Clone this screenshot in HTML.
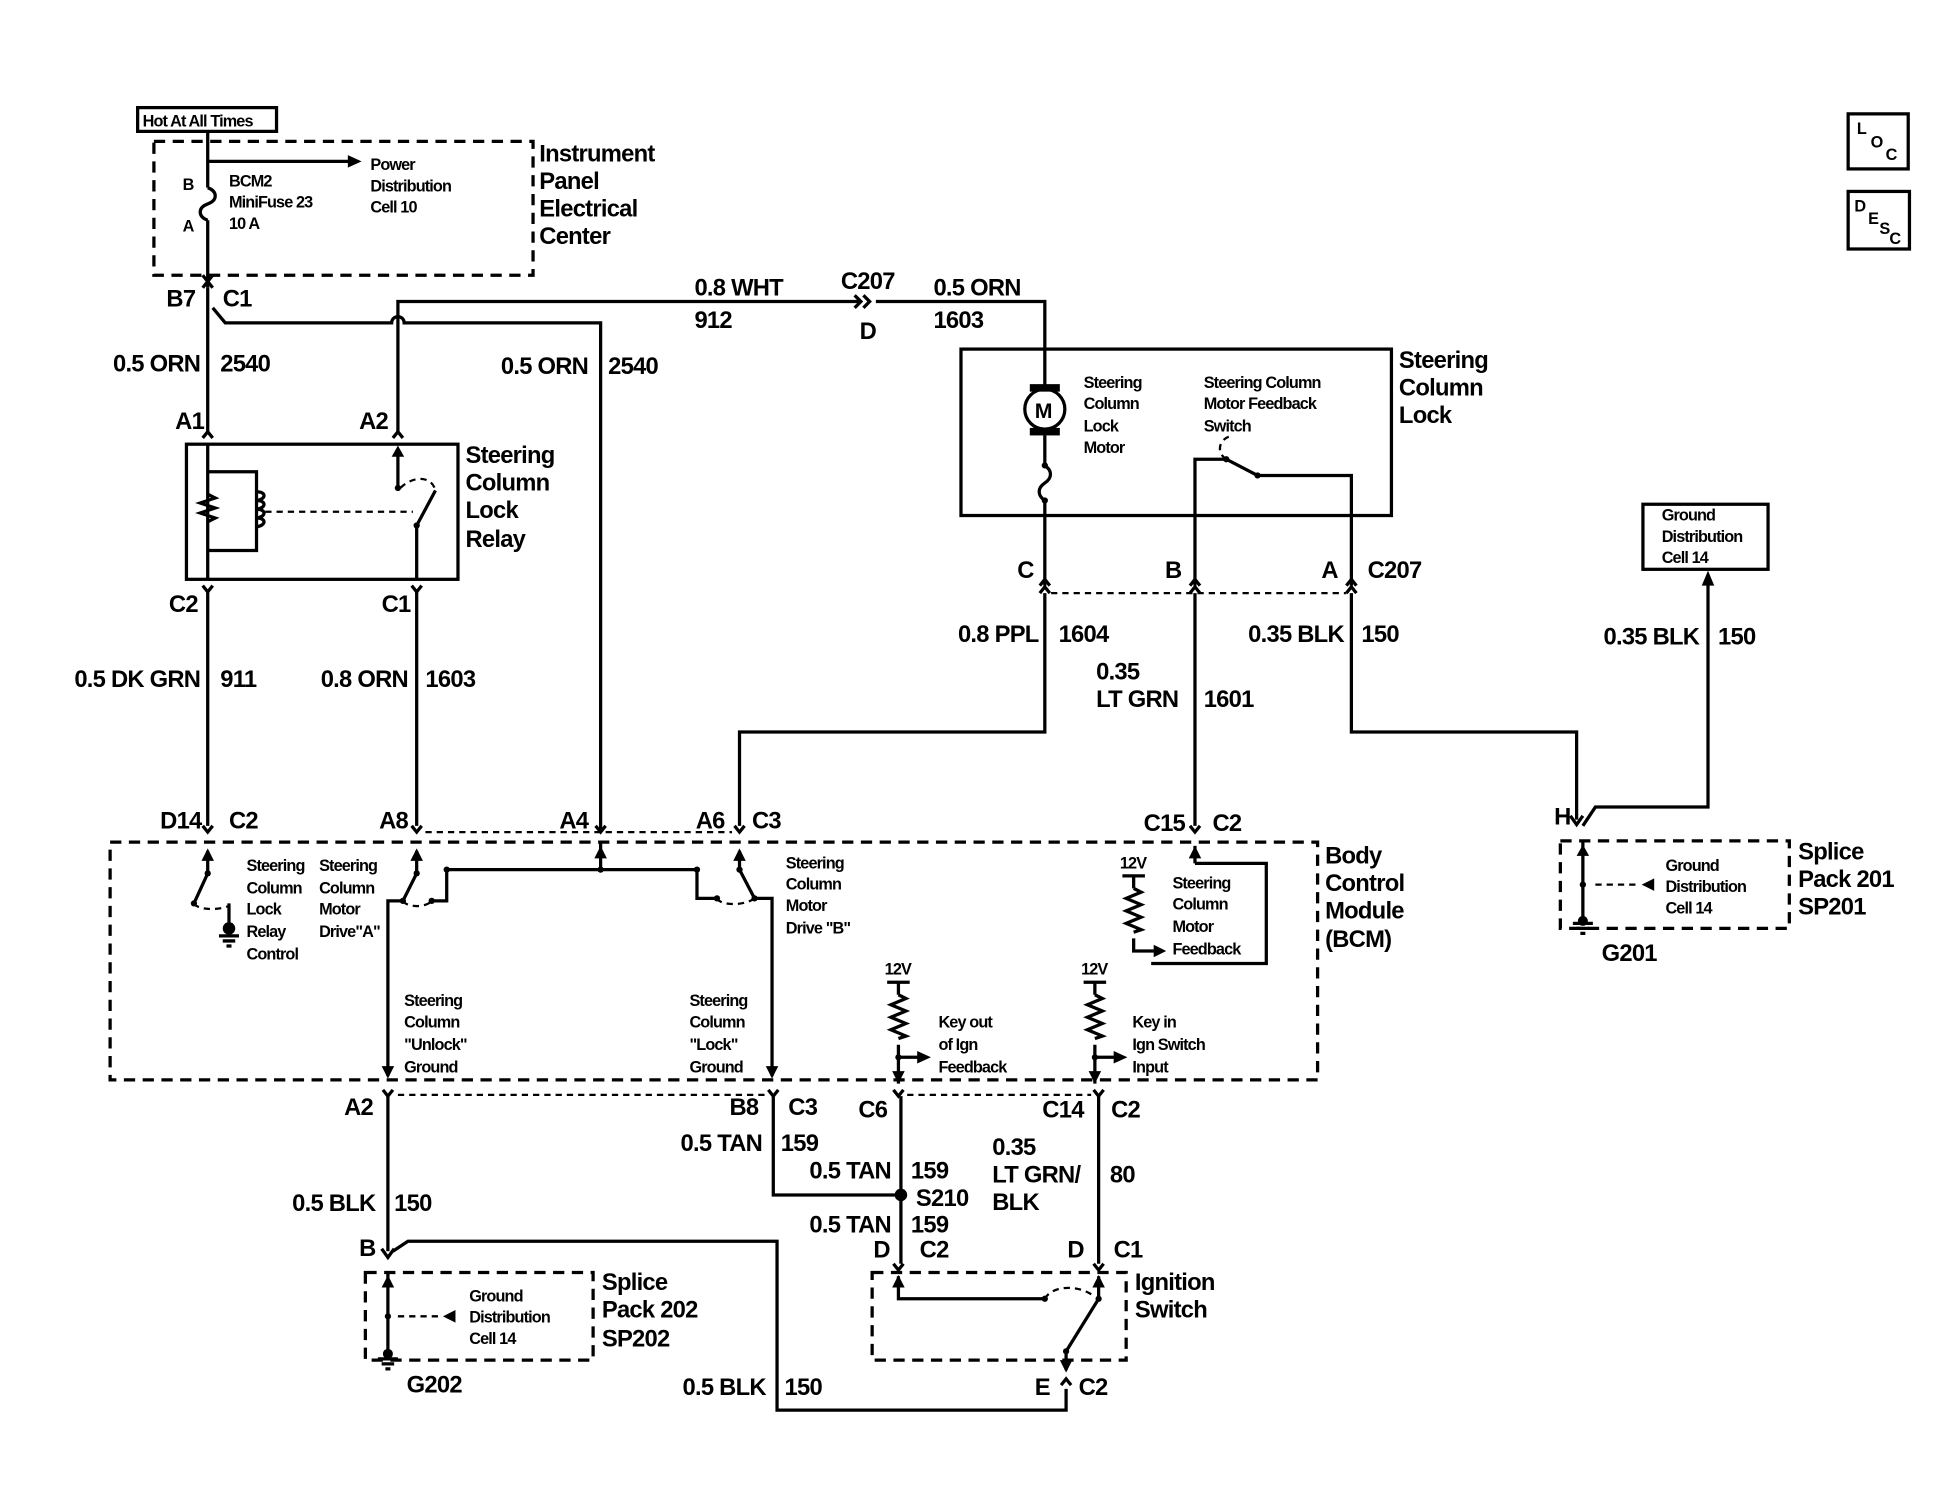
<!DOCTYPE html>
<html><head><meta charset="utf-8"><style>
html,body{margin:0;padding:0;background:#fff}
svg{display:block}
text{font-family:"Liberation Sans",sans-serif;font-weight:bold;fill:#000;letter-spacing:-0.6px}
.b{font-size:19px}
.s{font-size:13px;letter-spacing:-0.7px}
.w{stroke:#000;stroke-width:2.6;fill:none}
.d{stroke:#000;stroke-width:2.6;fill:none;stroke-dasharray:9,6}
.dd{stroke:#000;stroke-width:1.8;fill:none;stroke-dasharray:5,4}
.r{text-anchor:end}
</style></head><body>
<svg width="1952" height="1504" viewBox="0 0 1560 1202" preserveAspectRatio="none" xmlns="http://www.w3.org/2000/svg">
<!-- top -->
<rect x="110" y="86" width="111" height="19" class="w" stroke-width="2"/>
<text x="114" y="101" class="s">Hot At All Times</text>
<rect x="123" y="113" width="303" height="107" class="d"/>
<text class="b" x="431" y="129">Instrument</text><text class="b" x="431" y="151">Panel</text><text class="b" x="431" y="173">Electrical</text><text class="b" x="431" y="195">Center</text>
<path class="w" d="M166 105V150M166 176V230M166 129H280"/>
<path d="M166 150c8 3 8 10 0 13c-8 3-8 10 0 13" class="w"/>
<polygon points="278,124 289,129 278,134"/>
<text class="s" x="296" y="136">Power</text><text class="s" x="296" y="153">Distribution</text><text class="s" x="296" y="170">Cell 10</text>
<text class="s" x="146" y="152">B</text><text class="s" x="146" y="185">A</text>
<text class="s" x="183" y="149">BCM2</text><text class="s" x="183" y="166">MiniFuse 23</text><text class="s" x="183" y="183">10 A</text>
<path class="w" d="M162 220l4 5l4-5M162 230l4-5l4 5"/>
<text class="b" x="133" y="245">B7</text><text class="b" x="178" y="245">C1</text>
<!-- wires upper -->
<path class="w" d="M166 230V345M170 246L180 258H313a5 5 0 0 1 10 0H480V665"/>
<path class="w" d="M318 345V241H688M700 241H835V311"/>
<path class="w" d="M683 236l5 5l-5 5M690 236l5 5l-5 5"/>
<text class="b r" x="160" y="297">0.5 ORN</text><text class="b" x="176" y="297">2540</text>
<text class="b r" x="470" y="299">0.5 ORN</text><text class="b" x="486" y="299">2540</text>
<text class="b" x="555" y="236">0.8 WHT</text><text class="b" x="555" y="262">912</text>
<text class="b" x="672" y="231">C207</text><text class="b" x="687" y="271">D</text>
<text class="b" x="746" y="236">0.5 ORN</text><text class="b" x="746" y="262">1603</text>
<!-- relay -->
<text class="b" x="140" y="343">A1</text><text class="b" x="287" y="343">A2</text>
<path class="w" d="M162 350l4-5l4 5M314 350l4-5l4 5"/>
<rect x="149" y="355" width="217" height="108" class="w"/>
<text class="b" x="372" y="370">Steering</text><text class="b" x="372" y="392">Column</text><text class="b" x="372" y="414">Lock</text><text class="b" x="372" y="437">Relay</text>
<path class="w" d="M166 355V463M166 377H205V440H166"/>
<path class="w" d="M166 395l6 3l-12 4l12 4l-12 4l12 4l-6 3"/>
<path class="w" d="M205 393c8 0 8 6 0 7c8 0 8 6 0 7c8 0 8 6 0 7c8 0 8 6 0 7"/>
<path class="dd" d="M212 409H330"/>
<path class="w" d="M318 362V390M333 420V463M333 420L348 392"/>
<path class="dd" d="M320 390c10-10 25-10 28 2"/>
<polygon points="313,365 318,356 323,365"/>
<circle cx="318" cy="390" r="2.5"/><circle cx="333" cy="420" r="2.5"/>
<path class="w" d="M162 468l4 5l4-5M329 468l4 5l4-5"/>
<text class="b" x="135" y="489">C2</text><text class="b" x="305" y="489">C1</text>
<path class="w" d="M166 473V660M333 473V660"/>
<text class="b r" x="160" y="549">0.5 DK GRN</text><text class="b" x="176" y="549">911</text>
<text class="b r" x="326" y="549">0.8 ORN</text><text class="b" x="340" y="549">1603</text>
<!-- steering column lock -->
<rect x="768" y="279" width="344" height="133" class="w"/>
<text class="b" x="1118" y="294">Steering</text><text class="b" x="1118" y="316">Column</text><text class="b" x="1118" y="338">Lock</text>
<rect x="823" y="307" width="24" height="6"/><rect x="823" y="342" width="24" height="6"/>
<circle cx="835" cy="327" r="16" class="w" fill="#fff"/>
<text x="827" y="334" style="font-size:17px">M</text>
<text class="s" x="866" y="310">Steering</text><text class="s" x="866" y="327">Column</text><text class="s" x="866" y="345">Lock</text><text class="s" x="866" y="362">Motor</text>
<text class="s" x="962" y="310">Steering Column</text><text class="s" x="962" y="327">Motor Feedback</text><text class="s" x="962" y="345">Switch</text>
<path class="w" d="M835 348V372M835 400V468"/>
<path class="w" d="M835 372c6 4 6 10 0 14c-6 4-6 10 0 14"/>
<path class="w" d="M955 468V367H980M980 367L1005 380H1080V468"/>
<path class="dd" d="M980 367c-8-5-6-15 2-18"/>
<circle cx="980" cy="367" r="2.5"/><circle cx="1005" cy="380" r="2.5"/><circle cx="835" cy="372" r="2.5"/><circle cx="835" cy="400" r="2.5"/>
<path class="w" d="M831 468l4-5l4 5M831 474l4-5l4 5M951 468l4-5l4 5M951 474l4-5l4 5M1076 468l4-5l4 5M1076 474l4-5l4 5"/>
<path class="dd" d="M840 474H1076"/>
<text class="b" x="813" y="462">C</text><text class="b" x="931" y="462">B</text><text class="b" x="1056" y="462">A</text><text class="b" x="1093" y="462">C207</text>
<path class="w" d="M835 474V585H591V660M955 474V660M1080 474V585H1260V655"/>
<text class="b r" x="830" y="513">0.8 PPL</text><text class="b" x="846" y="513">1604</text>
<text class="b" x="876" y="543">0.35</text><text class="b" x="876" y="565">LT GRN</text><text class="b" x="962" y="565">1601</text>
<text class="b r" x="1074" y="513">0.35 BLK</text><text class="b" x="1088" y="513">150</text>
<!-- ground dist right -->
<rect x="1313" y="403" width="100" height="52" class="w"/>
<text class="s" x="1328" y="416">Ground</text><text class="s" x="1328" y="433">Distribution</text><text class="s" x="1328" y="450">Cell 14</text>
<polygon points="1360,468 1365,456 1370,468"/>
<path class="w" d="M1365 466V645H1275L1265 660"/>
<text class="b r" x="1358" y="515">0.35 BLK</text><text class="b" x="1373" y="515">150</text>
<text class="b" x="1242" y="659">H</text>
<path class="w" d="M1255 652l5 7l5-7"/>
<rect x="1247" y="672" width="183" height="70" class="d"/>
<path class="w" d="M1265 672V738"/><polygon points="1260,684 1265,675 1270,684"/>
<circle cx="1265" cy="707" r="2.5"/>
<path class="dd" d="M1275 707H1310"/><polygon points="1312,707 1322,702 1322,712"/>
<path class="w" d="M1257 738H1273M1260 742H1270M1263 746H1267"/><circle cx="1265" cy="736" r="4"/>
<text class="s" x="1331" y="696">Ground</text><text class="s" x="1331" y="713">Distribution</text><text class="s" x="1331" y="730">Cell 14</text>
<text class="b" x="1437" y="687">Splice</text><text class="b" x="1437" y="709">Pack 201</text><text class="b" x="1437" y="731">SP201</text>
<text class="b" x="1280" y="768">G201</text>
<!-- BCM -->
<text class="b" x="128" y="662">D14</text><text class="b" x="183" y="662">C2</text>
<text class="b" x="303" y="662">A8</text><text class="b" x="447" y="662">A4</text>
<text class="b" x="556" y="662">A6</text><text class="b" x="601" y="662">C3</text>
<text class="b" x="914" y="664">C15</text><text class="b" x="969" y="664">C2</text>
<path class="w" d="M162 660l4 5l4-5M329 660l4 5l4-5M476 660l4 5l4-5M587 660l4 5l4-5M951 660l4 5l4-5"/>
<path class="dd" d="M340 665H585"/>
<rect x="88" y="673" width="965" height="190" class="d"/>
<text class="b" x="1059" y="690">Body</text><text class="b" x="1059" y="712">Control</text><text class="b" x="1059" y="734">Module</text><text class="b" x="1059" y="757">(BCM)</text>
<!-- D14 switch -->
<path class="w" d="M166 680V698L155 722"/><polygon points="161,688 166,678 171,688"/>
<circle cx="166" cy="698" r="2.5"/><circle cx="155" cy="722" r="2.5"/>
<path class="dd" d="M155 722c3 5 18 6 28 2"/>
<path class="w" d="M183 722V738M175 748H191M178 752H188M181 756H185"/><circle cx="183" cy="742" r="5"/>
<text class="s" x="197" y="696">Steering</text><text class="s" x="197" y="714">Column</text><text class="s" x="197" y="731">Lock</text><text class="s" x="197" y="749">Relay</text><text class="s" x="197" y="767">Control</text>
<text class="s" x="255" y="696">Steering</text><text class="s" x="255" y="714">Column</text><text class="s" x="255" y="731">Motor</text><text class="s" x="255" y="749">Drive"A"</text>
<!-- A8 switch -->
<path class="w" d="M333 680V698L322 720H310V860"/><polygon points="328,688 333,678 338,688"/>
<circle cx="333" cy="698" r="2.5"/><circle cx="322" cy="720" r="2.5"/><circle cx="345" cy="720" r="2.5"/>
<path class="dd" d="M322 720c3 5 18 6 23 0"/>
<path class="w" d="M345 720H357V695H557V718H573"/>
<circle cx="357" cy="695" r="2.5"/><circle cx="480" cy="695" r="2.5"/><circle cx="557" cy="695" r="2.5"/><circle cx="573" cy="718" r="2.5"/>
<path class="w" d="M480 673V695"/><polygon points="475,686 480,676 485,686"/>
<!-- A6 switch -->
<path class="w" d="M591 680V695L603 718H617V860"/><polygon points="586,688 591,678 596,688"/>
<circle cx="591" cy="695" r="2.5"/><circle cx="603" cy="718" r="2.5"/>
<path class="dd" d="M573 718c3 6 22 6 30 0"/>
<text class="s" x="628" y="694">Steering</text><text class="s" x="628" y="711">Column</text><text class="s" x="628" y="728">Motor</text><text class="s" x="628" y="746">Drive "B"</text>
<text class="s" x="323" y="804">Steering</text><text class="s" x="323" y="821">Column</text><text class="s" x="323" y="839">"Unlock"</text><text class="s" x="323" y="857">Ground</text>
<text class="s" x="551" y="804">Steering</text><text class="s" x="551" y="821">Column</text><text class="s" x="551" y="839">"Lock"</text><text class="s" x="551" y="857">Ground</text>
<polygon points="305,852 310,862 315,852"/><polygon points="612,852 617,862 622,852"/>
<!-- feedback -->
<path class="w" d="M955 690H1012V770H920"/><polygon points="950,686 955,676 960,686"/><path class="w" d="M955 676V690"/>
<text class="s" x="895" y="694">12V</text><path class="w" d="M897 700H915M906 700V710M906 750V760H925"/>
<path class="w" d="M906 710l6 3l-12 5l12 5l-12 5l12 5l-12 5l12 5l-6 2"/>
<polygon points="922,755 932,760 922,765"/>
<text class="s" x="937" y="710">Steering</text><text class="s" x="937" y="727">Column</text><text class="s" x="937" y="745">Motor</text><text class="s" x="937" y="763">Feedback</text>
<!-- key out -->
<text class="s" x="707" y="779">12V</text><path class="w" d="M709 785H727M718 785V795M718 835V866M718 845H735"/>
<path class="w" d="M718 795l6 3l-12 5l12 5l-12 5l12 5l-12 5l12 5l-6 2"/>
<polygon points="733,840 744,845 733,850"/><circle cx="718" cy="845" r="2.5"/>
<text class="s" x="750" y="821">Key out</text><text class="s" x="750" y="839">of Ign</text><text class="s" x="750" y="857">Feedback</text>
<text class="s" x="864" y="779">12V</text><path class="w" d="M866 785H884M875 785V795M875 835V866M875 845H892"/>
<path class="w" d="M875 795l6 3l-12 5l12 5l-12 5l12 5l-12 5l12 5l-6 2"/>
<polygon points="890,840 901,845 890,850"/><circle cx="875" cy="845" r="2.5"/>
<text class="s" x="905" y="821">Key in</text><text class="s" x="905" y="839">Ign Switch</text><text class="s" x="905" y="857">Input</text>
<polygon points="713,856 718,866 723,856"/><polygon points="870,856 875,866 880,856"/>
<!-- bottom connectors -->
<path class="w" d="M306 871l4 5l4-5M614 871l4 5l4-5M714 871l4 5l4-5M874 871l4 5l4-5"/>
<path class="dd" d="M318 875H612M725 875H872"/>
<text class="b" x="275" y="891">A2</text><text class="b" x="583" y="891">B8</text><text class="b" x="630" y="891">C3</text>
<text class="b" x="686" y="893">C6</text><text class="b" x="833" y="893">C14</text><text class="b" x="888" y="893">C2</text>
<path class="w" d="M310 876V1000M618 876V955H720M720 876V1010M878 876V1010"/>
<circle cx="720" cy="955" r="5"/>
<text class="b r" x="300" y="968">0.5 BLK</text><text class="b" x="315" y="968">150</text>
<text class="b r" x="609" y="920">0.5 TAN</text><text class="b" x="624" y="920">159</text>
<text class="b r" x="712" y="942">0.5 TAN</text><text class="b" x="728" y="942">159</text>
<text class="b" x="732" y="964">S210</text>
<text class="b r" x="712" y="985">0.5 TAN</text><text class="b" x="728" y="985">159</text>
<text class="b" x="793" y="923">0.35</text><text class="b" x="793" y="945">LT GRN/</text><text class="b" x="793" y="967">BLK</text><text class="b" x="887" y="945">80</text>
<!-- SP202 -->
<text class="b" x="287" y="1004">B</text>
<path class="w" d="M305 998l5 7l5-7M314 1000L326 992H621V1127H852V1110"/>
<rect x="292" y="1017" width="182" height="70" class="d"/>
<path class="w" d="M310 1017V1082"/><polygon points="305,1029 310,1019 315,1029"/><circle cx="310" cy="1052" r="2.5"/>
<path class="dd" d="M318 1052H352"/><polygon points="354,1052 364,1047 364,1057"/>
<path class="w" d="M302 1086H318M305 1090H315M308 1094H312"/><circle cx="310" cy="1082" r="4"/>
<text class="s" x="375" y="1040">Ground</text><text class="s" x="375" y="1057">Distribution</text><text class="s" x="375" y="1074">Cell 14</text>
<text class="b" x="481" y="1031">Splice</text><text class="b" x="481" y="1053">Pack 202</text><text class="b" x="481" y="1076">SP202</text>
<text class="b" x="325" y="1113">G202</text>
<text class="b r" x="612" y="1115">0.5 BLK</text><text class="b" x="627" y="1115">150</text>
<!-- ignition -->
<text class="b" x="698" y="1005">D</text><text class="b" x="735" y="1005">C2</text><text class="b" x="853" y="1005">D</text><text class="b" x="890" y="1005">C1</text>
<path class="w" d="M714 1010l4 5l4-5M874 1010l4 5l4-5"/>
<rect x="697" y="1017" width="203" height="70" class="d"/>
<path class="w" d="M718 1020V1038H835M878 1020V1038L852 1080V1095"/>
<polygon points="713,1029 718,1019 723,1029"/><polygon points="873,1029 878,1019 883,1029"/>
<circle cx="835" cy="1038" r="2.5"/><circle cx="878" cy="1038" r="2.5"/><circle cx="852" cy="1080" r="2.5"/>
<path class="dd" d="M835 1038c5-10 25-12 38-3"/>
<polygon points="847,1087 852,1097 857,1087"/>
<path class="w" d="M848 1107l4-5l4 5"/>
<text class="b" x="907" y="1031">Ignition</text><text class="b" x="907" y="1053">Switch</text>
<text class="b" x="827" y="1115">E</text><text class="b" x="862" y="1115">C2</text>
<!-- icons -->
<rect x="1477" y="91" width="48" height="44" class="w"/>
<text x="1484" y="107" class="s">L</text><text x="1495" y="118" class="s">O</text><text x="1507" y="128" class="s">C</text>
<rect x="1477" y="153" width="49" height="46" class="w"/>
<text x="1482" y="169" class="s">D</text><text x="1493" y="179" class="s">E</text><text x="1502" y="187" class="s">S</text><text x="1510" y="195" class="s">C</text>
</svg>
</body></html>
